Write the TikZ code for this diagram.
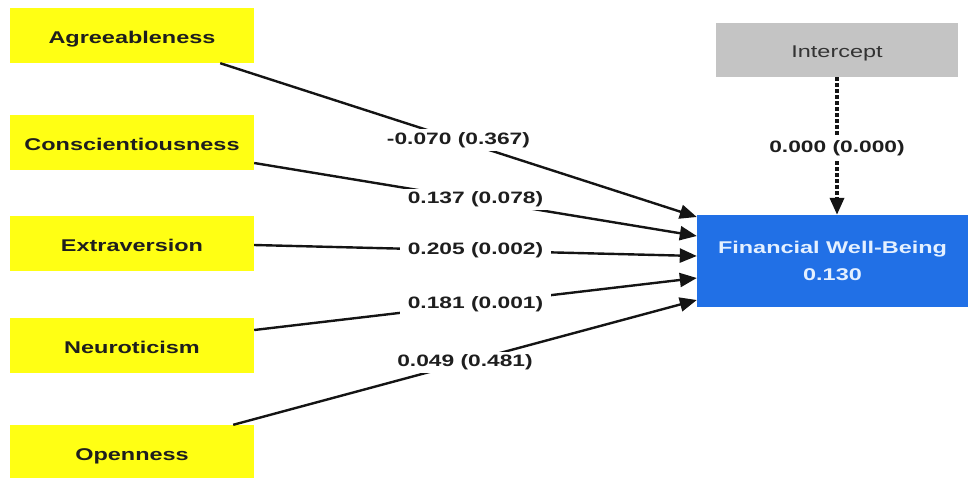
\documentclass[tikz,border=0pt]{standalone}
\usepackage{fontspec}
\setmainfont{Liberation Sans}[FakeStretch=1.38]
\usetikzlibrary{arrows.meta}

\definecolor{traitfill}{RGB}{255,255,20}
\definecolor{icptfill}{RGB}{196,196,196}
\definecolor{outfill}{RGB}{33,112,230}
\definecolor{outtext}{RGB}{228,240,255}
\definecolor{inktext}{RGB}{30,30,30}

\tikzset{
  trait/.style={fill=traitfill, minimum width=244pt, minimum height=55pt,
    inner sep=0pt, text height=16pt, text depth=0pt,
    font=\fontsize{17}{20}\selectfont\bfseries, text=inktext},
  icptbox/.style={fill=icptfill, minimum width=242pt, minimum height=54pt,
    inner sep=0pt, text height=15pt, text depth=0pt,
    font=\fontsize{17}{20}\selectfont, text=black!80},
  outbox/.style={fill=outfill, minimum width=271pt, minimum height=92pt,
    inner sep=0pt, align=center, font=\fontsize{17}{27}\selectfont\bfseries, text=outtext},
  regpath/.style={line width=2.4pt, draw=black!92, -{Triangle[length=17pt,width=14pt]}},
  icptpath/.style={line width=3.6pt, draw=black!92, dash pattern=on 4pt off 2pt,
    -{Triangle[length=17pt,width=14pt]}},
  coef/.style={fill=white, inner xsep=8pt, inner ysep=3pt,
    font=\fontsize{16.5}{20}\selectfont\bfseries, text=inktext},
}

\begin{document}
\begin{tikzpicture}[x=1pt, y=-1pt]
  \useasboundingbox (0,0) rectangle (968,477);

  % predictor boxes
  \node[trait] (agr)   at (132,35.5)  {Agreeableness};
  \node[trait] (con)   at (132,142.5) {Conscientiousness};
  \node[trait] (ext)   at (132,243)   {Extraversion};
  \node[trait] (neu)   at (132,345)   {Neuroticism};
  \node[trait] (opn)   at (132,452.5) {Openness};

  % intercept and outcome
  \node[icptbox] (icpt) at (837,50)  {Intercept};
  \node[outbox]  (fwb)  at (832.5,261) {Financial Well-Being\\0.130};

  % paths into the outcome
  \draw[regpath] ([xshift=-34pt]agr.south east) -- node[coef]{-0.070 (0.367)} ([yshift=44pt]fwb.west);
  \draw[regpath] ([yshift=-20.5pt]con.east)     -- node[coef]{0.137 (0.078)}  ([yshift=25pt]fwb.west);
  \draw[regpath] ([yshift=-2pt]ext.east)        -- node[coef]{0.205 (0.002)}  ([yshift=5pt]fwb.west);
  \draw[regpath] ([yshift=15pt]neu.east)        -- node[coef]{0.181 (0.001)}  ([yshift=-17pt]fwb.west);
  \draw[regpath] ([xshift=-21pt]opn.north east) -- node[coef]{0.049 (0.481)}  ([yshift=-39pt]fwb.west);

  \draw[icptpath] (icpt.south) -- node[coef, inner xsep=3pt, yshift=-2pt]{0.000 (0.000)} (icpt.south |- fwb.north);
\end{tikzpicture}
\end{document}
